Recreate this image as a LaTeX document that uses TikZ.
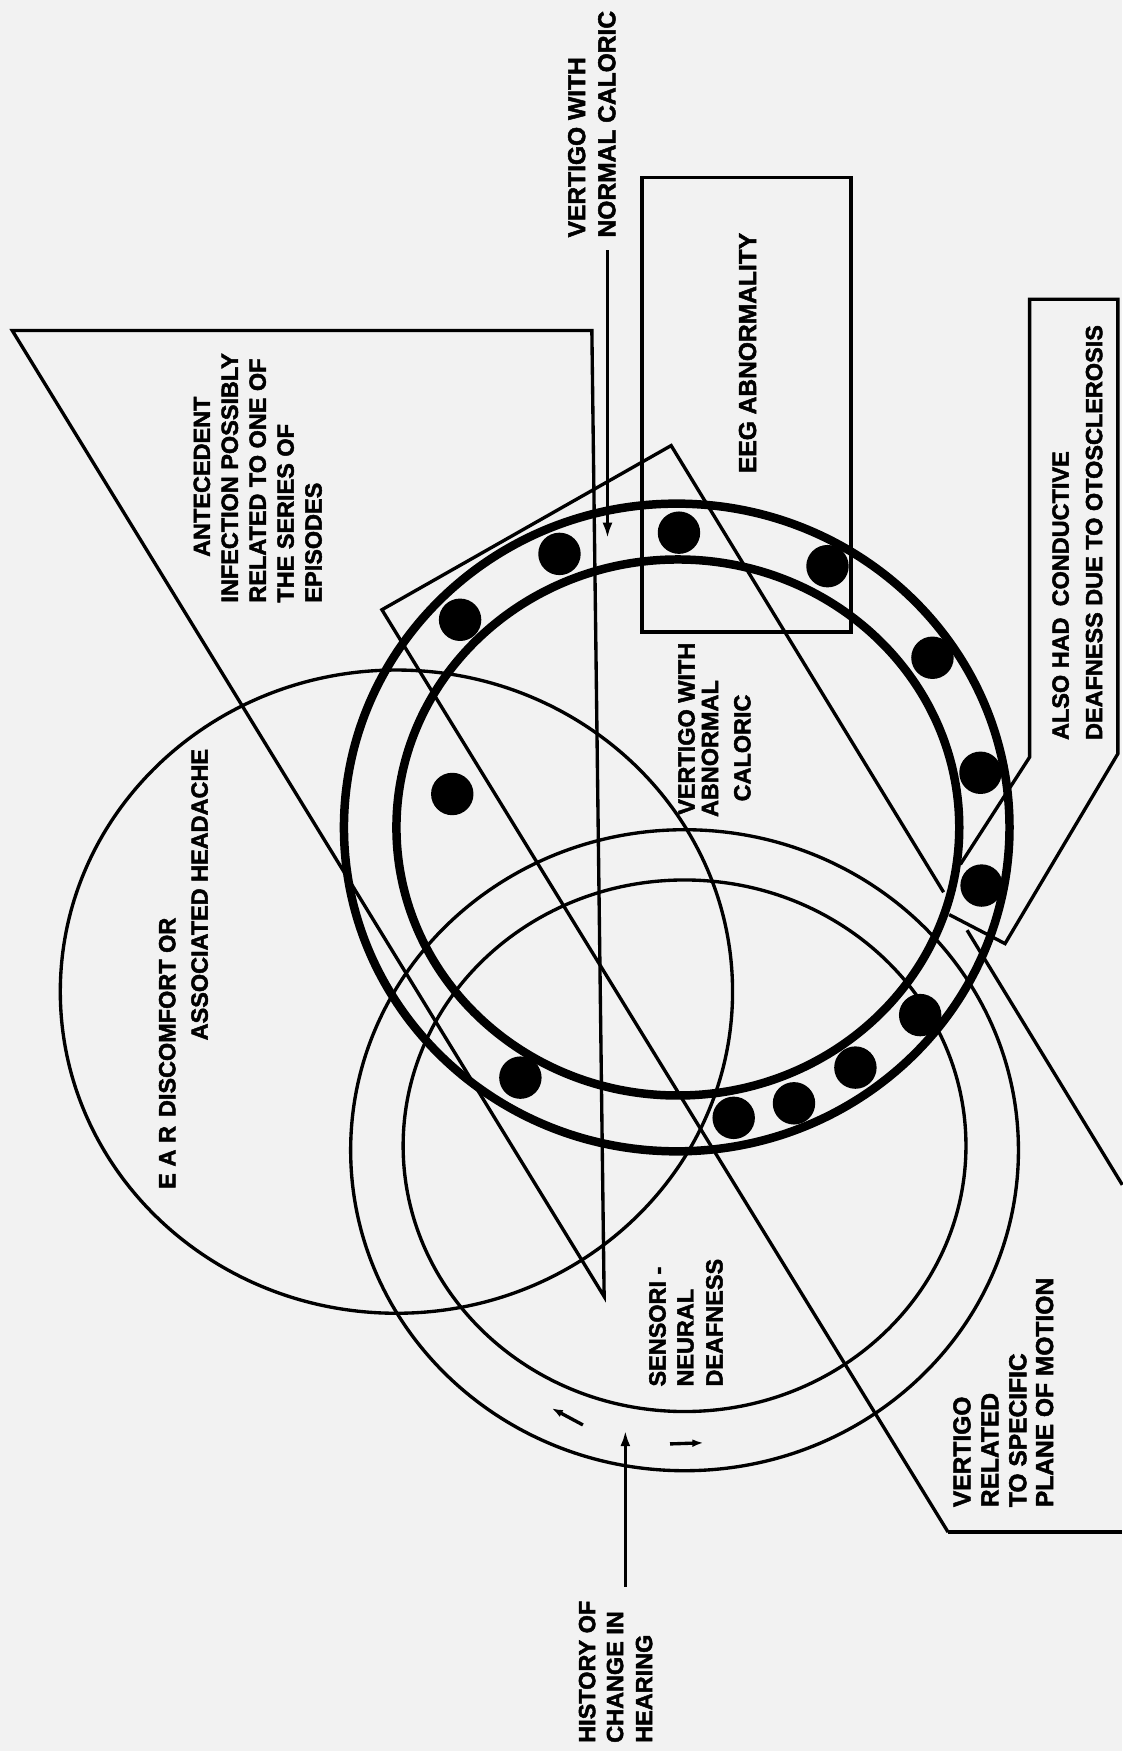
\documentclass[tikz,border=0pt]{standalone}
\usepackage{fontspec}
\setmainfont{Liberation Sans}
\newfontfamily\heavyfont{Liberation Sans Bold}[FakeBold=2]
\usetikzlibrary{arrows.meta}
\begin{document}
\begin{tikzpicture}[x=0.5pt,y=-0.5pt,
  ln/.style={line width=1.5pt, black, line join=miter},
  ring/.style={line width=3.8pt, black},
  blob/.style={fill=black, draw=none},
  lbl/.style={rotate=90, anchor=base west, inner sep=0pt, font=\heavyfont\fontsize{10.5}{12}\selectfont},
  lblL/.style={lbl, font=\heavyfont\fontsize{11}{13}\selectfont},
  lead/.style={line width=1.5pt, -{Latex[length=7pt,width=4.5pt]}},
  smallarr/.style={line width=1.5pt, -{Latex[length=5pt,width=3.5pt]}},
]
\useasboundingbox (0,0) rectangle (1005,1568);
\fill[black!5] (0,0) rectangle (1005,1568);

% antecedent infection triangle
\draw[ln] (11,296) -- (530,296) -- (541,1161) -- cycle;

% long tilted strip (vertigo related to specific plane of motion)
\draw[ln] (849,1372) -- (342,546) -- (601,399) -- (845,799);
\draw[ln] (866,833) -- (1005,1061);
\draw[ln] (849,1372) -- (1005,1372);

% EEG box
\draw[ln] (575,159) rectangle (762,566);

% also had conductive deafness box
\draw[ln] (860,774) -- (922,678) -- (922,268) -- (1001,268) -- (1001,675) -- (900,845) -- (850,819);

% thin circles
\draw[ln] (355,888) ellipse [x radius=301, y radius=288];
\draw[ln] (613,1030) ellipse [x radius=299, y radius=287];
\draw[ln] (613,1026) ellipse [x radius=252, y radius=238];

% thick ring
\draw[ring] (606,741) ellipse [x radius=298, y radius=290];
\draw[ring] (607,741) ellipse [x radius=252, y radius=240];

% cases
\foreach \px/\py in {412/555, 501/496, 608/477, 741/507, 835/589, 878/692, 879/793,
  824/909, 766/956, 711/988, 657/1001, 466/965, 405/711}
  \fill[blob] (\px,\py) circle [radius=19];

% labels
\node[lblL] (vn1) at (524,213) {VERTIGO WITH};
\node[lblL] (vn2) at (551,213) {NORMAL CALORIC};
\coordinate (vnA) at (544,224);
\coordinate (vnB) at (544,482);
\draw[lead] (vnA) -- (vnB);

\node[lblL] (eeg) at (677,424) {EEG ABNORMALITY};

\node[lbl] (an1) at (188,499) {ANTECEDENT};
\node[lbl] (an2) at (213,540) {INFECTION POSSIBLY};
\node[lbl] (an3) at (238,540) {RELATED TO ONE OF};
\node[lbl] (an4) at (263,540) {THE SERIES OF};
\node[lbl] (an5) at (288,540) {EPISODES};

\node[lbl] (va1) at (622,730) {VERTIGO WITH};
\node[lbl] (va2) at (643,732) {ABNORMAL};
\node[lbl] (va3) at (672,718) {CALORIC};

\node[lbl] (ah1) at (957,663) {ALSO HAD\hspace{5pt}CONDUCTIVE};
\node[lbl] (ah2) at (987,663) {DEAFNESS DUE TO OTOSCLEROSIS};

\node[lbl] (ear1) at (157,1065) {E\kern3pt A\kern3pt R\hspace{4pt}DISCOMFORT OR};
\node[lbl] (ear2) at (186,932) {ASSOCIATED HEADACHE};

\node[lbl] (sn1) at (596,1242) {SENSORI -};
\node[lbl] (sn2) at (621,1242) {NEURAL};
\node[lbl] (sn3) at (647,1242) {DEAFNESS};

\node[lblL] (vr1) at (869,1350) {VERTIGO};
\node[lblL] (vr2) at (894,1350) {RELATED};
\node[lblL] (vr3) at (919,1350) {TO SPECIFIC};
\node[lblL] (vr4) at (943,1350) {PLANE OF MOTION};

\node[lbl] (hi1) at (533,1561) {HISTORY OF};
\node[lbl] (hi2) at (558,1561) {CHANGE IN};
\node[lbl] (hi3) at (584,1561) {HEARING};
\coordinate (hiA) at (560,1421);
\coordinate (hiB) at (560,1281);
\draw[lead] (hiA) -- (hiB);
\coordinate (la1) at (522,1276);
\coordinate (la2) at (494,1261);
\draw[smallarr] (la1) -- (la2);
\coordinate (ra1) at (600,1293);
\coordinate (ra2) at (630,1292);
\draw[smallarr] (ra1) -- (ra2);
\end{tikzpicture}
\end{document}
